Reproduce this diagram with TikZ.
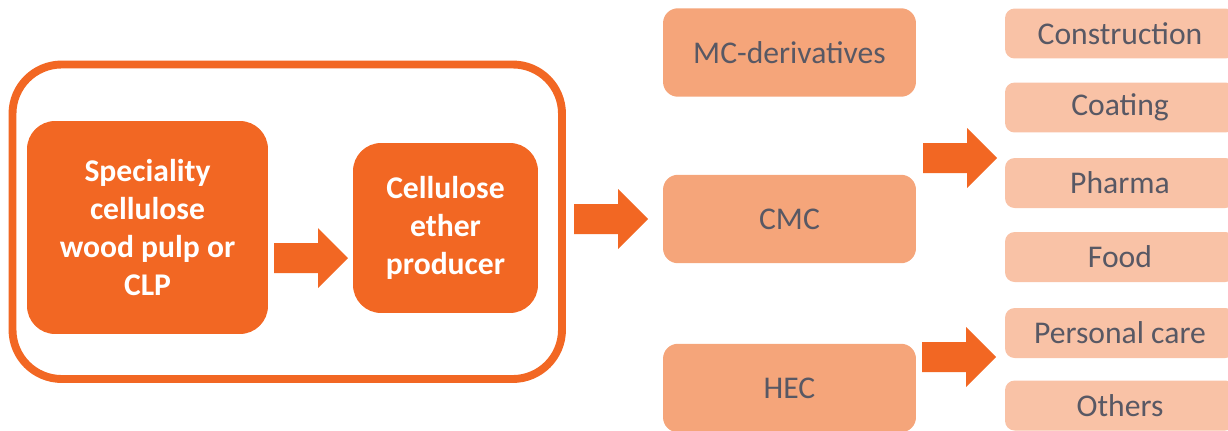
\documentclass[tikz,border=0pt]{standalone}
\usepackage{fontspec}
\setmainfont{Carlito}
\definecolor{orangedark}{RGB}{242,103,35}
\definecolor{orangemid}{RGB}{245,165,122}
\definecolor{orangelight}{RGB}{249,194,166}
\definecolor{labelgrey}{RGB}{88,88,100}
\tikzset{
	darkbox/.style={fill=orangedark, rounded corners=16pt, inner sep=0pt, align=center, text=white, font=\fontsize{18}{21.8}\selectfont\bfseries},
	midbox/.style={fill=orangemid, rounded corners=8.5pt, inner sep=0pt, minimum width=5.06cm, minimum height=1.77cm, text=labelgrey, font=\fontsize{18}{21.8}\selectfont},
	usebox/.style={fill=orangelight, rounded corners=5.5pt, inner sep=0pt, minimum width=4.6cm, minimum height=1cm, text=labelgrey, font=\fontsize{18}{21.8}\selectfont}
}
\def\blockarrow(#1,#2){\fill[orangedark] (#1,#2-15) -- (#1+44,#2-15) -- (#1+44,#2-30) -- (#1+74,#2) -- (#1+44,#2+30) -- (#1+44,#2+15) -- (#1,#2+15) -- cycle;}

\begin{document}
\begin{tikzpicture}[x=0.02cm, y=-0.02cm]
			%%%%% START %%%%%
			\useasboundingbox (0, 0) rectangle (1228, 430);
			\clip (0, 0) rectangle (1228, 430);
			
			\draw[orangedark, line width=4.5pt, rounded corners=28pt] (12.5, 64.5) rectangle (562, 379);
			
			\node[darkbox, minimum width=4.82cm, minimum height=4.26cm] (pulp) at (147.5, 227.5) {Speciality\\cellulose\\wood pulp or\\CLP};
			\node[darkbox, minimum width=3.7cm, minimum height=3.4cm] (producer) at (445.5, 228) {Cellulose\\ether\\producer};
			
			\blockarrow(274, 258)
			\blockarrow(574, 219)
			
			\node[midbox] (mcd) at (789.5, 52.5) {MC-derivatives};
			\node[midbox] (cmc) at (789.5, 219) {CMC};
			\node[midbox] (hec) at (789.5, 388) {HEC};
			
			\blockarrow(923, 158)
			\blockarrow(922, 357)
			
			\node[usebox] (construction) at (1120, 33.5) {Construction};
			\node[usebox] (coating) at (1120, 107.5) {Coating};
			\node[usebox] (pharma) at (1120, 183) {Pharma};
			\node[usebox] (food) at (1120, 257) {Food};
			\node[usebox] (personal) at (1120, 333) {Personal care};
			\node[usebox] (others) at (1120, 405.5) {Others};
			
			%%%%% END %%%%%
\end{tikzpicture}
\end{document}
